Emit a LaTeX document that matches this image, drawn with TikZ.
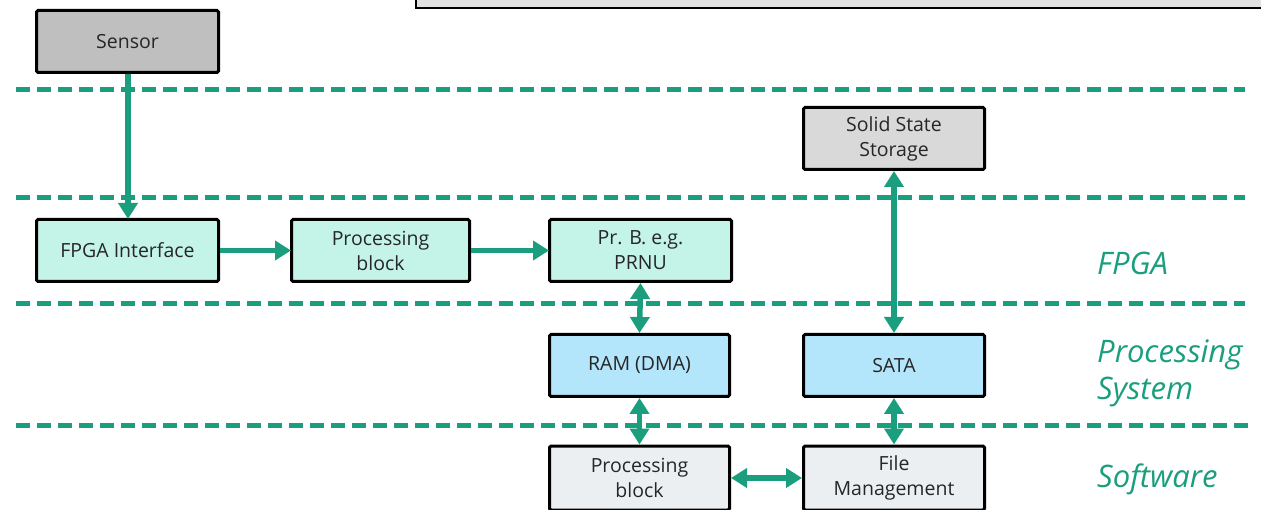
\documentclass[tikz,border=0pt]{standalone}
\usepackage{fontspec}
\setmainfont{Open Sans}
\usetikzlibrary{arrows.meta}
\definecolor{grn}{HTML}{1A9E7E}
\definecolor{txt}{HTML}{262626}
\definecolor{sensorfill}{HTML}{BFBFBF}
\definecolor{fpgafill}{HTML}{C4F3E8}
\definecolor{psfill}{HTML}{B3E6FB}
\definecolor{swfill}{HTML}{ECEFF1}
\definecolor{ssfill}{HTML}{D9D9D9}
\definecolor{topfill}{HTML}{E0E1E0}
\tikzset{
  blk/.style={draw=black, line width=3pt, rounded corners=1.5pt, minimum width=182pt, minimum height=62pt,
    inner sep=0pt, text=txt, align=center, font=\fontsize{19.5}{25}\selectfont},
  sep/.style={draw=grn, line width=5pt, dash pattern=on 14pt off 7pt},
  flow/.style={draw=grn, line width=5.5pt, -{Triangle[length=16pt,width=19pt]}, shorten >=-1pt},
  biflow/.style={draw=grn, line width=5.5pt, {Triangle[length=16pt,width=19pt]}-{Triangle[length=16pt,width=19pt]}},
  lyr/.style={text=grn, anchor=west, font=\fontsize{31}{37}\selectfont\itshape, align=left, inner sep=0pt}
}
\begin{document}
\begin{tikzpicture}[x=1pt,y=-1pt]
\useasboundingbox (0,0) rectangle (1261,510);
\clip (0,0) rectangle (1261,510);
% top cropped box
\node[draw=black, line width=2.5pt, fill=topfill, minimum width=880pt, minimum height=40pt, inner sep=0pt] (top) at (856,-12) {};
% separators
\coordinate (s1a) at (16,90);  \coordinate (s1b) at (1245,90);
\coordinate (s2a) at (16,198); \coordinate (s2b) at (1245,198);
\coordinate (s3a) at (16,304); \coordinate (s3b) at (1245,304);
\coordinate (s4a) at (16,425); \coordinate (s4b) at (1248,425);
\draw[sep] (s1a) -- (s1b);
\draw[sep] (s2a) -- (s2b);
\draw[sep] (s3a) -- (s3b);
\draw[sep] (s4a) -- (s4b);
% boxes
\node[blk, fill=sensorfill] (sensor) at (127.5,41.5) {Sensor};
\node[blk, fill=fpgafill] (fpgaif) at (127.5,250.5) {FPGA Interface};
\node[blk, fill=fpgafill, minimum width=178pt] (proc1) at (380.5,250.5) {Processing\\block};
\node[blk, fill=fpgafill] (prnu) at (640.5,250.5) {Pr. B. e.g.\\PRNU};
\node[blk, fill=ssfill, minimum width=181pt] (sss) at (894,138.5) {Solid State\\Storage};
\node[blk, fill=psfill, minimum width=180pt] (ram) at (639.5,365.5) {RAM (DMA)};
\node[blk, fill=psfill, minimum width=181pt] (sata) at (894,365.5) {SATA};
\node[blk, fill=swfill, minimum width=180pt, minimum height=64pt] (proc2) at (639.5,478) {Processing\\block};
\node[blk, fill=swfill, minimum width=181pt, minimum height=64pt] (file) at (894,478) {File\\Management};
% connectors
\draw[flow] (sensor.south -| 128,0) -- (fpgaif.north -| 128,0);
\draw[flow] (fpgaif.east) -- (proc1.west);
\draw[flow] (proc1.east) -- (prnu.west);
\draw[biflow] (prnu.south) -- (ram.north);
\draw[biflow] (sss.south) -- (sata.north);
\draw[biflow] (ram.south) -- (proc2.north);
\draw[biflow] (sata.south) -- (file.north);
\draw[biflow] (proc2.east) -- (file.west);
% layer labels
\node[lyr] (lf) at (1097,263) {FPGA};
\node[lyr] (lp) at (1097,373) {Processing\\System};
\node[lyr] (ls) at (1097,479) {Software};
\end{tikzpicture}
\end{document}
